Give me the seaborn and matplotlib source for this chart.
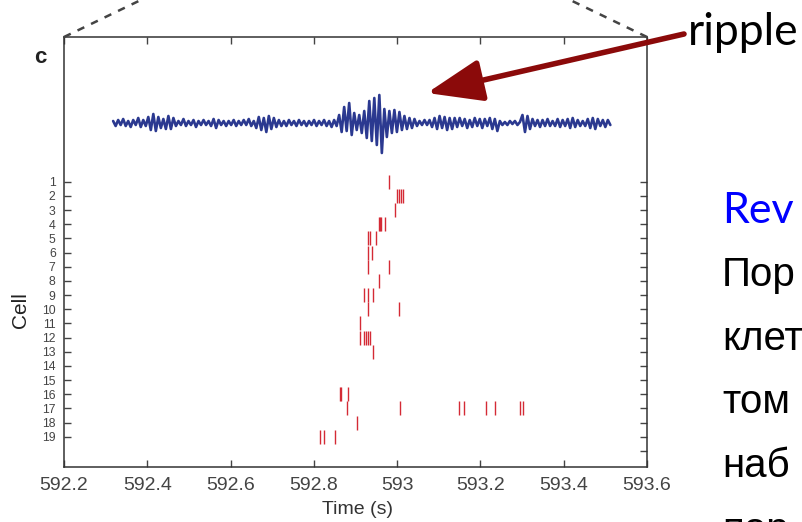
import numpy as np
import pandas as pd
import matplotlib
matplotlib.use("Agg")
import matplotlib.pyplot as plt
from matplotlib.lines import Line2D
from matplotlib.ticker import FixedLocator
import seaborn as sns

sns.set_style("ticks")
plt.rcParams["font.family"] = ["Liberation Sans", "DejaVu Sans"]

# raster: one entry per spike (cell index, time in s)
spike_cell = [1,
              2, 2, 2, 2,
              3,
              4, 4, 4, 4,
              5, 5, 5,
              6, 6,
              7, 7,
              8,
              9, 9, 9,
              10, 10,
              11,
              12, 12, 12, 12, 12,
              13,
              16, 16, 16,
              17, 17, 17, 17, 17, 17, 17, 17,
              18,
              19, 19, 19]
spike_time = [592.980,
              593.000, 593.004, 593.010, 593.015,
              592.994,
              592.956, 592.959, 592.962, 592.970,
              592.931, 592.936, 592.950,
              592.931, 592.939,
              592.931, 592.980,
              592.956,
              592.921, 592.929, 592.941,
              592.931, 593.004,
              592.912,
              592.912, 592.921, 592.925, 592.929, 592.936,
              592.941,
              592.862, 592.866, 592.883,
              592.880, 593.008, 593.148, 593.160, 593.214, 593.234, 593.296, 593.302,
              592.904,
              592.815, 592.825, 592.850]

# LFP trace (arbitrary units), sampled evenly between lfp_start and lfp_end
lfp_start, lfp_end = 592.318, 593.512
lfp_amp = [2, -3, 3, -2, 4, -3, 2, -4, 3, -2, 5, -4, 3, -3, 6,
           -7, 9, -8, 6, -5, 4, -6, 7, -6, 5,
           -3, 2, -2, 4, -3, 2, -2, 3, -4, 2, -2, 3, -2, 2, -3, 4,
           -5, 3, -2, 2, -3, 2, -2, 3, -3, 2, -2, 3, -2, 4, -3, 2,
           -5, 6, -7, 5, -9, 7, -6, 5, -4, 3,
           -3, 2, -3, 3, -2, 2, -3, 3, -2, 2, -3, 2, -2, 3, -3, 2,
           -2, 3, -3, 2, -4, 3, -3,
           8, -9, 16, -8, 20, -12, 10, -7, 8, -10, 12, -15, 22, -18, 25, -22,
           28, -30, 14, -14, 12, -10, 13, -9, 11, -7, 7, -6, 5, -5, 4,
           -3, 2, -2, 3, -2, 3, -4, 5, -6, 7, -5, 6, -7, 5,
           -6, 5, -4, 5, -3, 4, -5, 3, -4, 5, -3, 4, -5, 4, -3, 5, -6, 4, -8,
           2, -2, 1, -2, 2, -1, 2, -2, 1,
           8, -9, 7, -6,
           4, -3, 3, -4, 3, -3, 4, -3, 2, -3, 4, -4, 3, -3, 4, -5,
           5, -4, 3, -3, 2, -3, 4, -5, 5, -6, 4, -3, 3, -4, 3, -2]

x_ticks = [592.2, 592.4, 592.6, 592.8, 593.0, 593.2, 593.4, 593.6]
x_tick_labels = ["592.2", "592.4", "592.6", "592.8", "593", "593.2", "593.4", "593.6"]
cells = list(range(1, 20))

raster = pd.DataFrame({"time": spike_time, "cell": spike_cell})
lfp_t = np.linspace(lfp_start, lfp_end, len(lfp_amp))

W, H = 802, 522
fig = plt.figure(figsize=(W / 100, H / 100), dpi=100)
ax = fig.add_axes([64 / W, 1 - 467 / H, 583 / W, 430 / H])

red = "#d42a35"
blue = "#2b3990"
grey = "#444444"

sns.scatterplot(data=raster, x="time", y="cell", marker="|", s=100,
                linewidth=1.0, color=red, ax=ax, legend=False)

ax.set_xlim(592.2, 593.6)
ax.set_ylim(21.13, -9.21)
ax.set_xticks(x_ticks)
ax.set_xticklabels(x_tick_labels)
ax.set_yticks(cells)
ax.set_yticklabels([str(c) for c in cells])
ax.yaxis.set_minor_locator(FixedLocator([20]))
ax.tick_params(axis="x", direction="in", length=5, width=1, top=True,
               labelsize=14, pad=7, colors=grey, labelcolor=grey)
ax.tick_params(axis="y", direction="in", length=5, width=1, right=True,
               labelsize=8.8, pad=6, colors=grey, labelcolor=grey)
ax.tick_params(axis="y", which="minor", direction="in", length=5, width=1,
               left=False, right=True, colors=grey)
for s in ax.spines.values():
    s.set_color("#333333")
    s.set_linewidth(1.1)

ax.set_xlabel("Time (s)", fontsize=14, color="#333333")
ax.set_ylabel("Cell", fontsize=15, color="#222222")
ax.xaxis.set_label_coords(0.503, -0.08)
ax.yaxis.set_label_coords(-0.058, 0.365)

# LFP trace in the upper part of the panel (centre ~86 px below the top spine)
ax_lfp = ax.inset_axes([0, (467 - 163) / 430, 1, 80 / 430])
sns.lineplot(x=lfp_t, y=lfp_amp, ax=ax_lfp, color=blue, linewidth=1.9,
             estimator=None, sort=False)
ax_lfp.set_xlim(592.2, 593.6)
ax_lfp.set_ylim(-40, 40)
ax_lfp.set_xticks([])
ax_lfp.set_yticks([])
ax_lfp.set_xlabel("")
ax_lfp.set_ylabel("")
ax_lfp.axis("off")
ax_lfp.patch.set_alpha(0)


def fpx(x, y):
    return (x / W, 1 - y / H)


# dashed zoom lines from the panel corners
for (x0, y0), (x1, y1) in [((64, 37), (145, -2)), ((647, 37), (566, -2))]:
    (a, b), (c, d) = fpx(x0, y0), fpx(x1, y1)
    fig.add_artist(Line2D([a, c], [b, d], transform=fig.transFigure,
                          color="#444444", lw=1.8, linestyle=(0, (3, 3))))

fig.text(*fpx(40, 63), "c", fontsize=16, fontweight="bold", ha="center",
         va="baseline", color="#222222")

# arrow pointing to the ripple
ax.annotate("", xy=fpx(427, 93), xytext=fpx(684, 34),
            xycoords="figure fraction", textcoords="figure fraction",
            annotation_clip=False,
            arrowprops=dict(arrowstyle="-|>,head_length=1.0,head_width=0.38",
                            mutation_scale=34, lw=4, color="#8b0a0a",
                            shrinkA=0, shrinkB=0))
fig.text(*fpx(688, 45), "ripple", fontsize=32, family=["Lato", "DejaVu Sans"],
         ha="left", va="baseline", color="black")

# slide text on the right (cut off by the frame)
fig.text(*fpx(722, 223), "Rev", fontsize=31, family=["Lato", "DejaVu Sans"],
         color="#0000ff", ha="left", va="baseline")
for word, yb in [("Пор", 286), ("клет", 350), ("том", 413), ("наб", 477), ("пор", 541)]:
    fig.text(*fpx(722, yb), word, fontsize=29, color="black", ha="left",
             va="baseline")

fig.savefig("out.png", dpi=100)
